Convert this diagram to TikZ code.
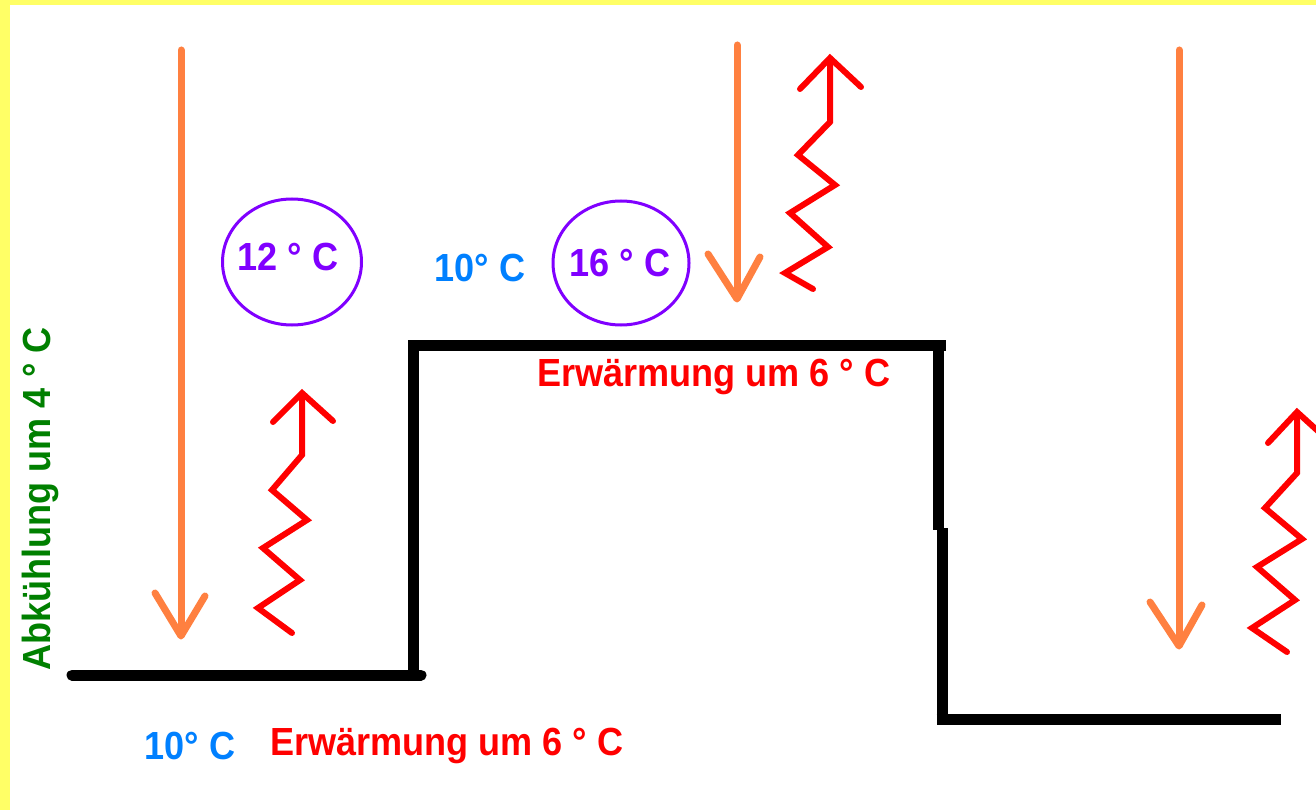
\documentclass[tikz,border=0pt]{standalone}
\usepackage{fontspec}
\usepackage{graphicx}
\setmainfont{Liberation Sans}
\usetikzlibrary{shapes.geometric}
\definecolor{bandyellow}{RGB}{255,255,102}
\definecolor{sunorange}{RGB}{255,128,64}
\definecolor{heatred}{RGB}{255,0,0}
\definecolor{circviolet}{RGB}{128,0,255}
\definecolor{tempblue}{RGB}{0,128,255}
\definecolor{coolgreen}{RGB}{0,128,0}
\newcommand{\narrowtxt}[1]{\scalebox{0.975}[1.06]{#1}}
\begin{document}
\begin{tikzpicture}[x=1pt,y=-1pt,
  sunray/.style={draw=sunorange,line width=7pt,line cap=round,line join=round},
  heatray/.style={draw=heatred,line width=6pt,line cap=round,line join=miter},
  ground/.style={draw=black,line width=11pt,line cap=round},
  lbl/.style={inner sep=0pt,font=\bfseries\fontsize{37}{40}\selectfont},
  tempring/.style={draw=circviolet,line width=3pt,ellipse,inner sep=0pt}]
\useasboundingbox (0,0) rectangle (1316,810);
\fill[white] (0,0) rectangle (1316,810);
\fill[bandyellow] (0,0) rectangle (1316,5);
\fill[bandyellow] (0,0) rectangle (10,810);

% ground profile
\draw[ground] (72,675) -- (421,675);
\draw[ground,line cap=butt] (413.5,681) -- (413.5,340);
\draw[ground,line cap=butt] (408,345) -- (946,345);
\draw[ground,line cap=butt] (938,340) -- (938,530);
\draw[ground,line cap=butt] (942,528) -- (942,724.5);
\draw[ground,line cap=butt] (936.5,719) -- (1281,719);

% sun rays
\draw[sunray] (181,50) -- (181,635);
\draw[sunray] (155,593) -- (181,636) -- (205,596);
\draw[sunray] (737,45) -- (737,298);
\draw[sunray] (708,254) -- (737,299) -- (760,257);
\draw[sunray] (1179,50) -- (1179,645);
\draw[sunray] (1150,602) -- (1179,646) -- (1202,605);

% heat rays
\draw[heatray] (292,633) -- (258,608) -- (300,580) -- (263,548) -- (307,520) -- (272,490) -- (302,455) -- (302,395);
\draw[heatray,line cap=round] (273,422) -- (302,393) -- (333,421);
\draw[heatray] (813,289) -- (785,273) -- (828,247) -- (790,213) -- (835,185) -- (798,155) -- (830,122) -- (830,60);
\draw[heatray,line cap=round] (800,89) -- (830,58) -- (861,87);
\draw[heatray] (1287,652) -- (1252,628) -- (1295,600) -- (1257,567) -- (1302,539) -- (1265,508) -- (1297,473) -- (1297,414);
\draw[heatray,line cap=round] (1268,443) -- (1297,412) -- (1330,442);

% circles
\node[tempring,minimum width=139pt,minimum height=126pt] (c12) at (292,262) {};
\node[tempring,minimum width=136pt,minimum height=124pt] (c16) at (621,263) {};
\node[lbl,text=circviolet] (t12) at (288,257) {\narrowtxt{12 ° C}};
\node[lbl,text=circviolet] (t16) at (620,263) {\narrowtxt{16 ° C}};

% labels
\node[lbl,text=tempblue] (b10top) at (480,268) {\narrowtxt{10° C}};
\node[lbl,text=tempblue] (b10bot) at (190,746) {\narrowtxt{10° C}};
\node[lbl,text=heatred,anchor=west] (ewbot) at (270,746) {\narrowtxt{Erwärmung um 6 ° C}};
\node[lbl,text=heatred,anchor=west] (ewtop) at (537,377) {\narrowtxt{Erwärmung um 6 ° C}};
\node[lbl,text=coolgreen,rotate=90] (ab) at (40,499) {\narrowtxt{Abkühlung um 4 ° C}};
\end{tikzpicture}
\end{document}
